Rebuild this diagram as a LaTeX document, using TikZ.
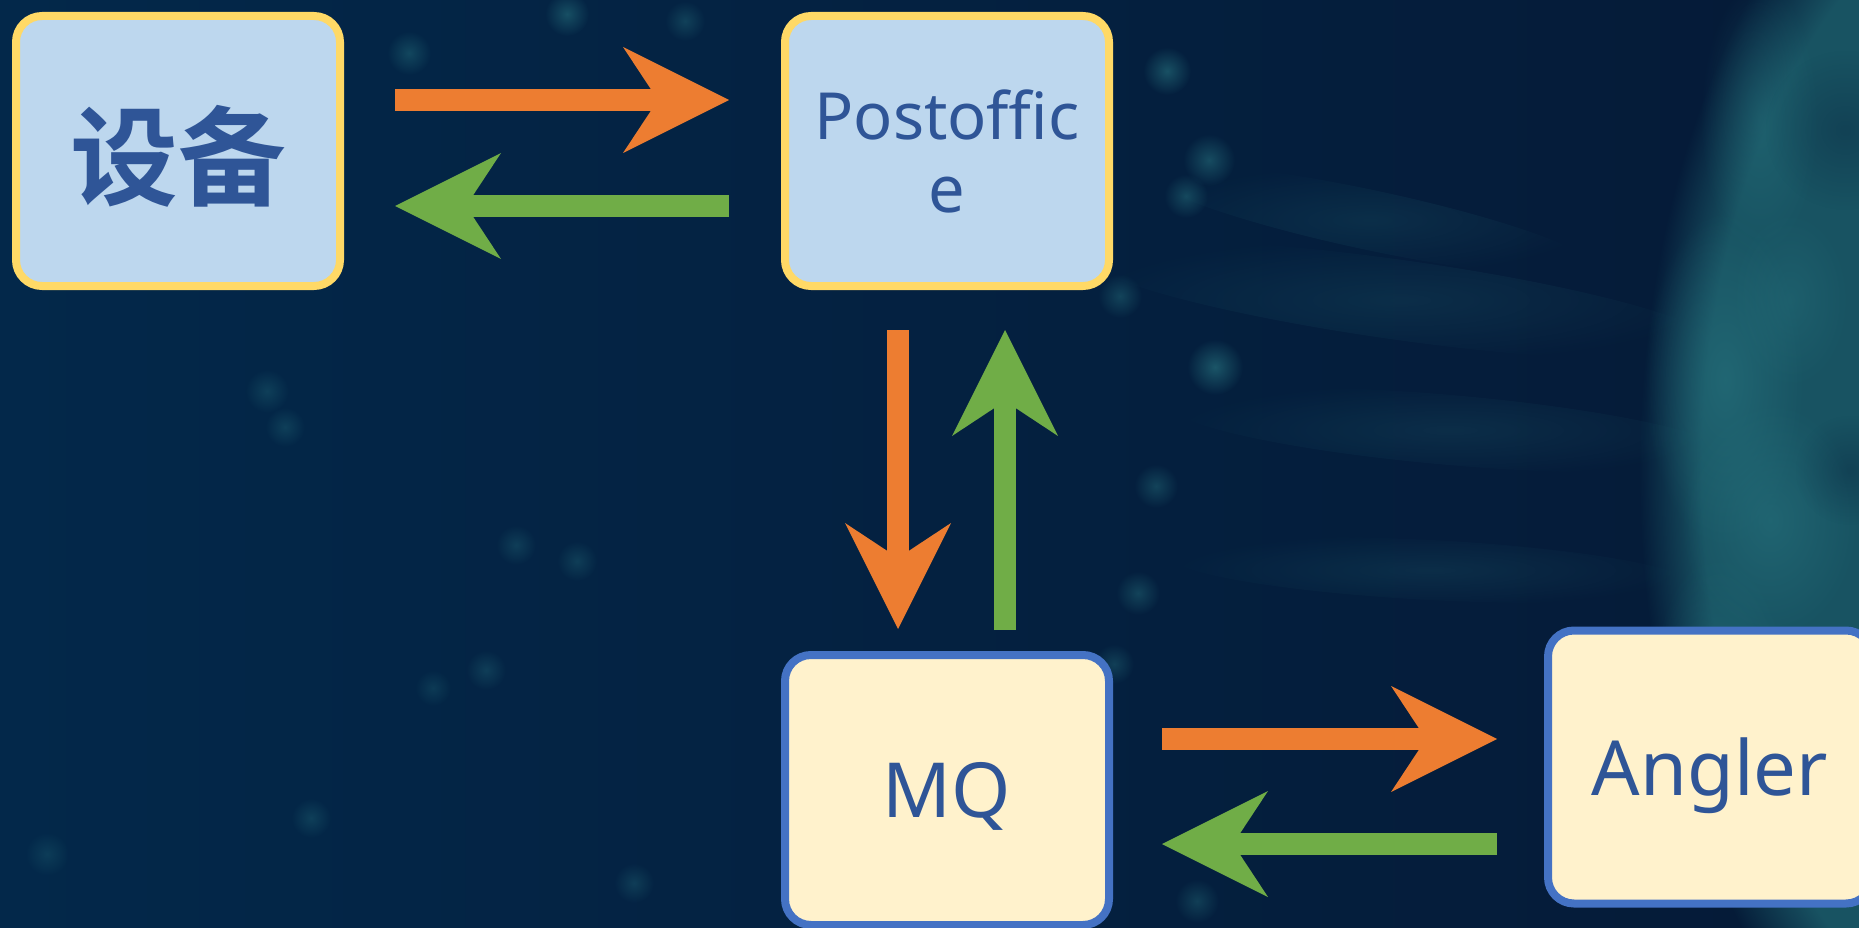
\documentclass[tikz,border=0pt]{standalone}
\usepackage{fontspec}
\setmainfont{Noto Sans}
\newfontfamily\cjkb{Noto Sans CJK SC Bold}
\usetikzlibrary{arrows.meta,calc,fadings}

\definecolor{bgnavy}{HTML}{02213F}
\definecolor{bgleft}{HTML}{03284A}
\definecolor{bgright}{HTML}{051A37}
\definecolor{boxblue}{HTML}{BDD7EE}
\definecolor{boxcream}{HTML}{FFF2CC}
\definecolor{edgeyellow}{HTML}{FFD966}
\definecolor{edgeblue}{HTML}{4472C4}
\definecolor{txtblue}{HTML}{2F5597}
\definecolor{flowout}{HTML}{ED7D31}
\definecolor{flowback}{HTML}{70AD47}
\definecolor{glowteal}{HTML}{2A7A84}
\definecolor{hazeteal}{HTML}{1C5D6A}

\tikzfading[name=softdot, inner color=transparent!0, outer color=transparent!100]

\tikzset{
  card/.style={rounded corners=26pt, line width=8pt, minimum width=324pt,
    minimum height=270pt, inner sep=0pt, text=txtblue, align=center,
    text depth=0pt},
  topcard/.style={card, fill=boxblue, draw=edgeyellow},
  lowcard/.style={card, fill=boxcream, draw=edgeblue},
  flow/.style={line width=22pt,
    -{Stealth[length=106pt, width=106pt, inset=35pt, line width=0pt]}},
  fwdflow/.style={flow, draw=flowout},
  retflow/.style={flow, draw=flowback},
  glow/.style={fill=glowteal, path fading=softdot},
  haze/.style={fill=hazeteal, path fading=circle with fuzzy edge 15 percent},
}

\begin{document}
\begin{tikzpicture}[x=1pt, y=-1pt]
  \useasboundingbox (0,0) rectangle (1859,928);
  \clip (0,0) rectangle (1859,928);

  % night-sky backdrop
  \shade[left color=bgleft, middle color=bgnavy, right color=bgright]
    (0,0) rectangle (1859,928);

  % glowing limb on the right
  \fill[haze, opacity=0.85] (2060,470) ellipse [x radius=420, y radius=700];
  \foreach \x/\y/\rx/\ry/\o in {1760/120/60/140/0.35, 1725/380/80/170/0.5,
      1770/520/90/120/0.45, 1720/700/70/150/0.35, 1790/300/60/90/0.3}
    \fill[glow, opacity=\o] (\x,\y) ellipse [x radius=\rx, y radius=\ry];
  \foreach \x/\y/\r in {1845/130/80, 1850/470/55, 1840/800/60}
    \fill[bgright, path fading=softdot, opacity=0.3] (\x,\y) circle [radius=\r];

  % faint streaks running into the limb
  \foreach \x/\y/\rx/\ry/\a in {1400/300/320/40/-8, 1450/430/280/35/-5,
      1370/220/230/30/-12, 1430/570/260/30/-3}
    \fill[glow, opacity=0.18, rotate around={\a:(\x,\y)}]
      (\x,\y) ellipse [x radius=\rx, y radius=\ry];

  % scattered soft points of light
  \foreach \x/\y/\r/\o in {567/14/22/0.5, 685/21/20/0.35, 409/53/22/0.4,
      1167/71/24/0.55, 1209/160/26/0.5, 1186/196/22/0.45, 1215/367/28/0.6,
      1120/296/22/0.4, 267/391/22/0.3, 285/427/20/0.3, 516/545/20/0.3,
      577/561/20/0.3, 486/670/20/0.3, 433/688/18/0.25, 311/818/20/0.3,
      47/854/22/0.25, 634/883/20/0.3, 1156/486/22/0.4, 1138/593/22/0.4,
      1114/664/20/0.35, 1197/901/22/0.35, 1030/950/20/0.3}
    \fill[glow, opacity=\o] (\x,\y) circle [radius=\r];

  % components
  \node[topcard, font=\cjkb\fontsize{108}{120}\selectfont] (dev) at (178,151) {设备};
  \node[topcard, text depth=, font=\fontsize{65}{73}\selectfont] (post) at (947,151) {Postoffic\\e};
  \node[lowcard, font=\fontsize{76}{86}\selectfont] (mq) at (947,790) {MQ};
  \node[lowcard, minimum height=273pt, font=\fontsize{76}{86}\selectfont] (ang) at (1710,767) {Angler};

  % request / response flows
  \draw[fwdflow] ($(dev.east)+(51,-51)$) -- ($(post.west)+(-52,-51)$);
  \draw[retflow] ($(post.west)+(-52,55)$) -- ($(dev.east)+(51,55)$);
  \draw[fwdflow] ($(post.south)+(-49,40)$) -- ($(mq.north)+(-49,-22)$);
  \draw[retflow] ($(mq.north)+(58,-21)$) -- ($(post.south)+(58,40)$);
  \draw[fwdflow] ($(mq.east)+(49,-51)$) -- ($(ang.west)+(-47,-28)$);
  \draw[retflow] ($(ang.west)+(-47,77)$) -- ($(mq.east)+(49,54)$);
\end{tikzpicture}
\end{document}
